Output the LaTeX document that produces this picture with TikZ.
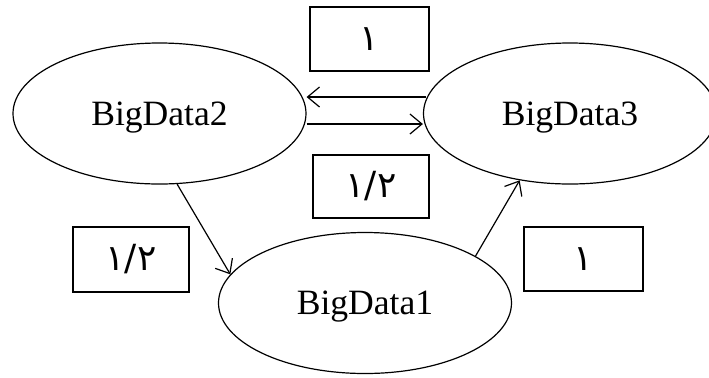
\documentclass[tikz,border=0pt]{standalone}
\usepackage{fontspec}
\setmainfont{Liberation Serif}
\newfontfamily\arabicfont[Script=Arabic]{DejaVu Sans}
\usetikzlibrary{shapes.geometric,arrows.meta}
\begin{document}
\begin{tikzpicture}[x=0.5pt,y=-0.5pt,
  state/.style={ellipse,draw,line width=0.6pt,minimum width=146.5pt,minimum height=70.5pt,inner sep=0pt,text depth=0pt,font=\fontsize{17.8}{20}\selectfont},
  wbox/.style={rectangle,draw,line width=1pt,inner sep=0pt,font=\arabicfont\fontsize{18}{20}\selectfont},
  arr/.style={-{Straight Barb[length=6pt,width=10pt]},line width=0.6pt}]
\useasboundingbox (0,0) rectangle (709,377);
\node[state] (b2) at (159.5,113.5) {BigData2};
\node[state] (b3) at (570,113.5) {BigData3};
\node[state] (b1) at (365,303) {BigData1};
\node[wbox,minimum width=59.5pt,minimum height=32pt] (wt) at (369.5,39) {١};
\node[wbox,minimum width=58pt,minimum height=31.5pt] (wm) at (371,186.5) {١/٢};
\node[wbox,minimum width=58pt,minimum height=32.5pt] (wl) at (131,259.5) {١/٢};
\node[wbox,minimum width=59.5pt,minimum height=32pt] (wr) at (583.5,259) {١};
\draw[arr] ([yshift=8.25pt,xshift=1.5pt]b3.west) -- ([yshift=8.25pt]b2.east);
\draw[arr] ([yshift=-5.25pt]b2.east) -- ([yshift=-5.25pt]b3.west);
\draw[arr] (b2.-76) -- (b1.168);
\draw[arr] (b1.23) -- (b3.-127.5);
\end{tikzpicture}
\end{document}
